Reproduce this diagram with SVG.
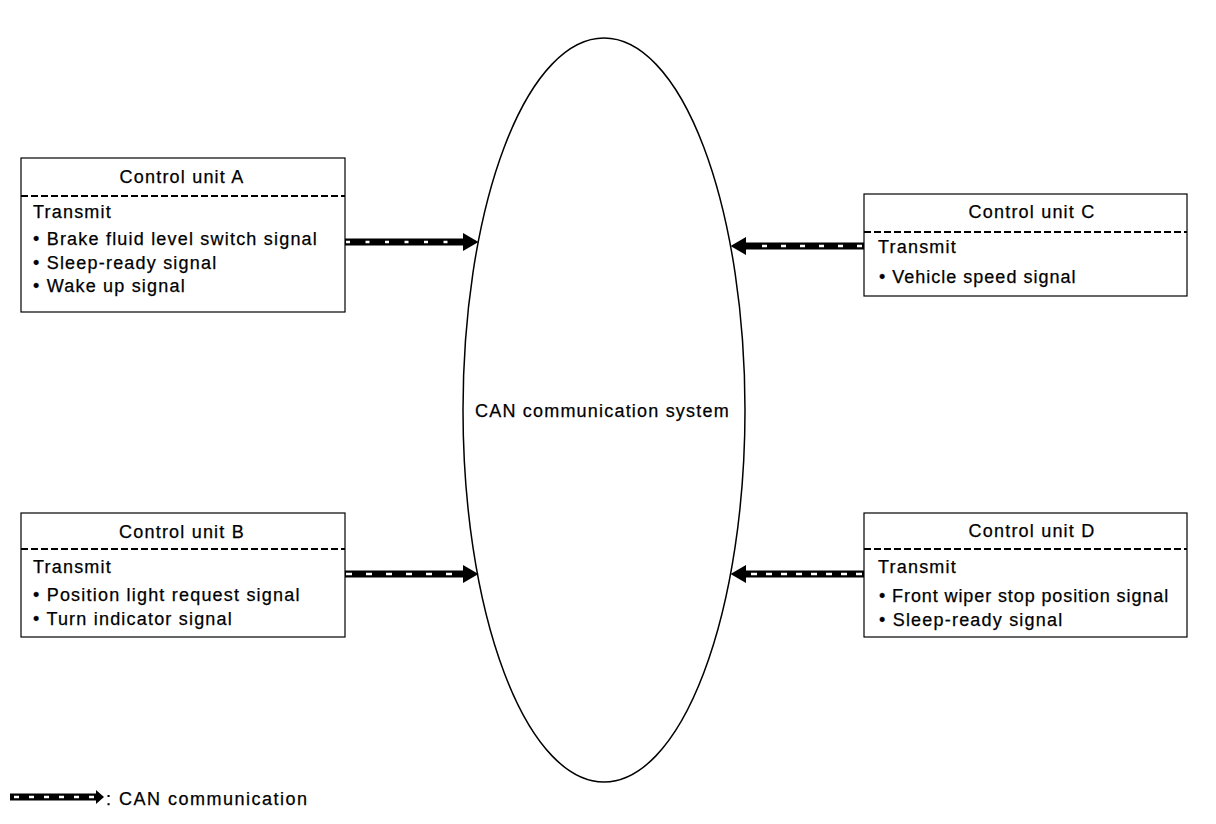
<svg xmlns="http://www.w3.org/2000/svg" width="1216" height="824" viewBox="0 0 1216 824">
<style>
  text { font-family: "Liberation Sans", Arial, sans-serif; font-size: 18px; fill: #000; letter-spacing: 1.2px; stroke: #000; stroke-width: 0.25px; }
  .box { fill: #fff; stroke: #000; stroke-width: 1.2; }
  .div { stroke: #000; stroke-width: 1.2; stroke-dasharray: 7 3; fill: none; shape-rendering: crispEdges; }
  .band { stroke: #000; stroke-width: 7; fill: none; }
  .wa { stroke: #fff; stroke-width: 2.5; fill: none; }
</style>
<defs>
  <marker id="head" markerUnits="userSpaceOnUse" markerWidth="16" markerHeight="18" refX="0" refY="9" orient="auto">
    <path d="M0,0 L15.5,9 L0,18 Z" fill="#000"/>
  </marker>
</defs>
<rect width="1216" height="824" fill="#fff"/>

<g id="can-system">
  <ellipse cx="604" cy="410" rx="141" ry="372" fill="#fff" stroke="#000" stroke-width="1.5"/>
  <text x="475" y="417">CAN communication system</text>
</g>

<g id="unit-a">
  <rect class="box" x="21" y="158" width="324" height="154"/>
  <line class="div" x1="21" y1="196" x2="345" y2="196"/>
  <text x="182" y="183" text-anchor="middle">Control unit A</text>
  <text x="33" y="218">Transmit</text>
  <text x="33" y="245">• Brake fluid level switch signal</text>
  <text x="33" y="269">• Sleep-ready signal</text>
  <text x="33" y="292">• Wake up signal</text>
</g>

<g id="unit-b">
  <rect class="box" x="21" y="513" width="324" height="124"/>
  <line class="div" x1="21" y1="549" x2="345" y2="549"/>
  <text x="182" y="538" text-anchor="middle">Control unit B</text>
  <text x="33" y="573">Transmit</text>
  <text x="33" y="601">• Position light request signal</text>
  <text x="33" y="625">• Turn indicator signal</text>
</g>

<g id="unit-c">
  <rect class="box" x="864" y="194" width="323" height="102"/>
  <line class="div" x1="864" y1="232" x2="1187" y2="232"/>
  <text x="1032" y="218" text-anchor="middle">Control unit C</text>
  <text x="878" y="253">Transmit</text>
  <text x="879" y="283" style="letter-spacing:1px">• Vehicle speed signal</text>
</g>

<g id="unit-d">
  <rect class="box" x="864" y="513" width="323" height="124"/>
  <line class="div" x1="864" y1="549" x2="1187" y2="549"/>
  <text x="1032" y="537" text-anchor="middle">Control unit D</text>
  <text x="878" y="573">Transmit</text>
  <text x="879" y="602" style="letter-spacing:0.9px">• Front wiper stop position signal</text>
  <text x="879" y="626">• Sleep-ready signal</text>
</g>

<g id="connectors">
  <g id="arrow-a">
    <line class="band" x1="345" y1="242" x2="463" y2="242" marker-end="url(#head)"/>
    <line class="wa" x1="346" y1="242" x2="460" y2="242" stroke-dasharray="4 15.5"/>
  </g>
  <g id="arrow-c">
    <line class="band" x1="864" y1="246" x2="746" y2="246" marker-end="url(#head)"/>
    <line class="wa" x1="862" y1="246" x2="750" y2="246" stroke-dasharray="5 14"/>
  </g>
  <g id="arrow-b">
    <line class="band" x1="345" y1="574" x2="463" y2="574" marker-end="url(#head)"/>
    <line class="wa" x1="346" y1="574" x2="460" y2="574" stroke-dasharray="6 14"/>
  </g>
  <g id="arrow-d">
    <line class="band" x1="864" y1="574" x2="746" y2="574" marker-end="url(#head)"/>
    <line class="wa" x1="862" y1="574" x2="750" y2="574" stroke-dasharray="6 9"/>
  </g>
</g>

<g id="legend">
  <line class="band" x1="10" y1="797" x2="96" y2="797"/>
  <line class="wa" x1="14" y1="797" x2="94" y2="797" stroke-dasharray="5 10"/>
  <polygon points="96,790 104,797 96,804" fill="#000"/>
  <text x="106" y="805" style="letter-spacing:1.5px">: CAN communication</text>
</g>
</svg>
